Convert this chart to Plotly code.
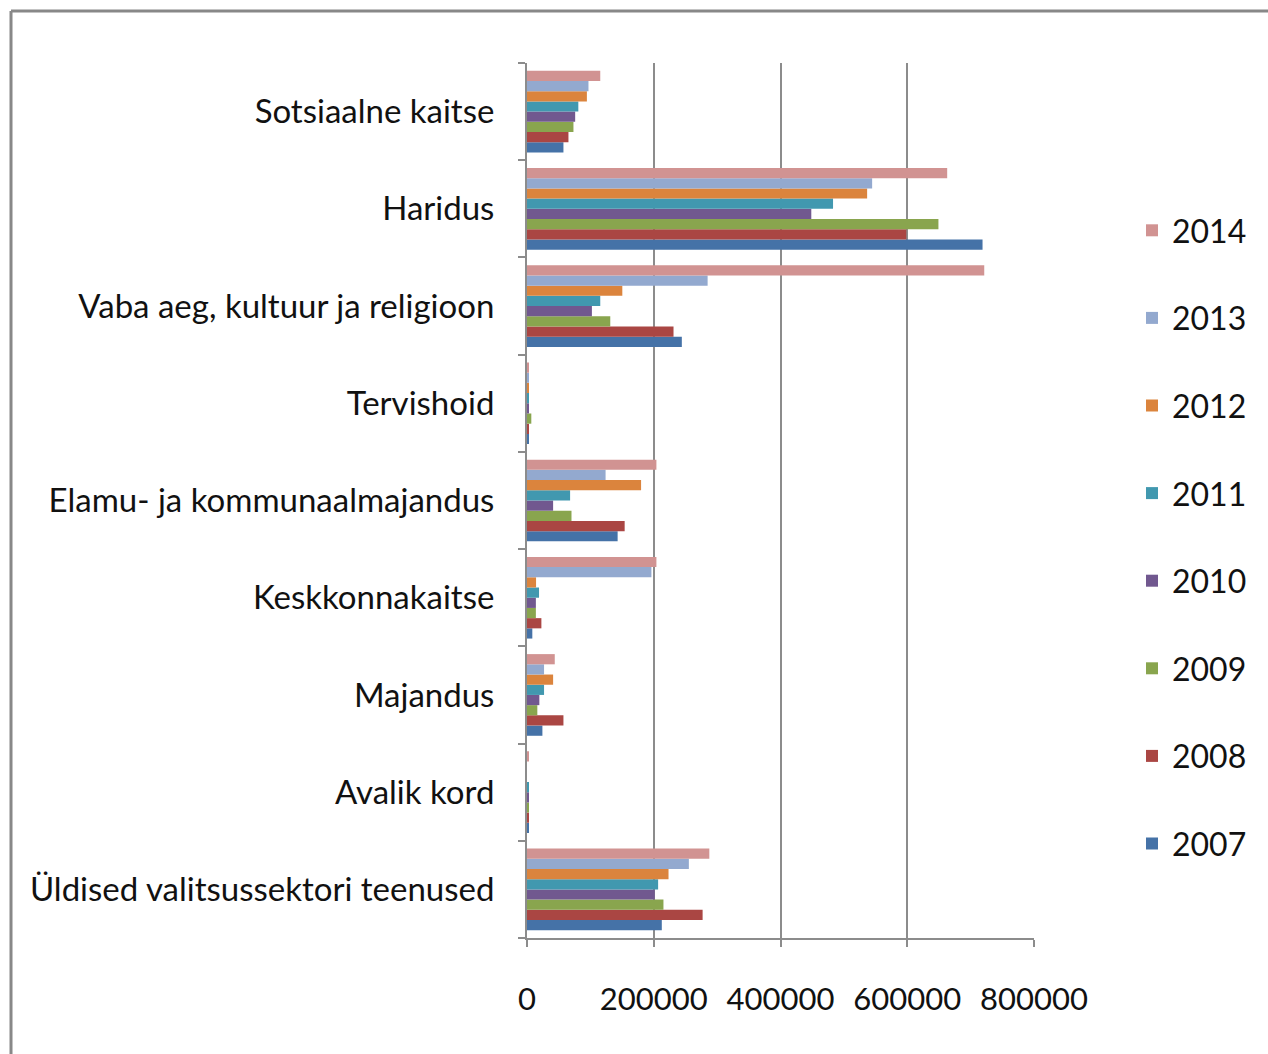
import plotly.graph_objects as go

categories = [
    "Üldised valitsussektori teenused",
    "Avalik kord",
    "Majandus",
    "Keskkonnakaitse",
    "Elamu- ja kommunaalmajandus",
    "Tervishoid",
    "Vaba aeg, kultuur ja religioon",
    "Haridus",
    "Sotsiaalne kaitse",
]

years = ["2007", "2008", "2009", "2010", "2011", "2012", "2013", "2014"]

v2007 = [212700, 2000, 24300, 8400, 143000, 2500, 244300, 718800, 57500]
v2008 = [277100, 2000, 57500, 22700, 154100, 3000, 231200, 598500, 65400]
v2009 = [215300, 2000, 16300, 14000, 70200, 6800, 131400, 649200, 73300]
v2010 = [201600, 2000, 19500, 14000, 41200, 2500, 102400, 448600, 76000]
v2011 = [206900, 2000, 26900, 19000, 68000, 3000, 115600, 482900, 81000]
v2012 = [223300, 0, 41200, 14300, 180000, 3000, 150400, 536700, 94500]
v2013 = [255400, 0, 26900, 196300, 124000, 2000, 285000, 544600, 97000]
v2014 = [287700, 3000, 43800, 204200, 204200, 3000, 721500, 663000, 115600]

series = [v2007, v2008, v2009, v2010, v2011, v2012, v2013, v2014]
colors = ["#4572A7", "#AA4643", "#89A54E", "#71588F", "#4198AF", "#DB843D", "#93A9CF", "#D19392"]

x_ticks = [0, 200000, 400000, 600000, 800000]

FONT = "Lato, sans-serif"

fig = go.Figure()
n = len(years)
for i, (yr, vals, col) in enumerate(zip(years, series, colors)):
    fig.add_trace(go.Bar(
        y=categories, x=vals, name=yr, orientation="h",
        marker=dict(color=col, line=dict(width=0)),
        legendgroup=yr,
        legendrank=1000 - i,
    ))

W, H = 1268, 1054
L, R, T, B = 527, 234, 63, 116
pw, ph = W - L - R, H - T - B

def px_x(p):
    return (p - L) / pw

def px_y(p):
    return (H - B - p) / ph

fig.update_layout(
    width=W, height=H,
    margin=dict(l=L, r=R, t=T, b=B, pad=0, autoexpand=False),
    barmode="group",
    bargap=0.16,
    bargroupgap=0,
    plot_bgcolor="white",
    paper_bgcolor="white",
    font=dict(family=FONT, size=33, color="#111111"),
    legend=dict(
        traceorder="grouped",
        x=px_x(1132), xanchor="left",
        y=px_y(203), yanchor="top",
        font=dict(family=FONT, size=32, color="#111111"),
        tracegroupgap=43,
        itemwidth=30,
        bgcolor="rgba(0,0,0,0)",
    ),
    xaxis=dict(
        range=[0, 800000],
        tickvals=x_ticks,
        tickformat="d",
        tickfont=dict(family=FONT, size=31, color="#111111"),
        showgrid=True, gridcolor="#8c8c8c", gridwidth=2,
        zeroline=False,
        showline=True, linecolor="#8c8c8c", linewidth=2,
        ticks="outside", ticklen=7, tickcolor="#8c8c8c", tickwidth=2,
        ticklabelstandoff=26,
        automargin=False,
        fixedrange=True,
    ),
    yaxis=dict(
        categoryorder="array", categoryarray=categories,
        showgrid=False, zeroline=False,
        showline=True, linecolor="#8c8c8c", linewidth=2,
        ticks="outside", ticklen=7, tickcolor="#8c8c8c", tickwidth=2,
        tickson="boundaries",
        ticklabelstandoff=24,
        automargin=False,
        fixedrange=True,
    ),
    shapes=[
        dict(type="line", xref="paper", yref="paper",
             x0=px_x(11), x1=px_x(1268), y0=px_y(11), y1=px_y(11),
             line=dict(color="#888888", width=3)),
        dict(type="line", xref="paper", yref="paper",
             x0=px_x(11), x1=px_x(11), y0=px_y(11), y1=px_y(1054),
             line=dict(color="#888888", width=3)),
    ],
)

fig.write_html("out.html", config={"displayModeBar": False},
               post_script="document.body.style.margin='0';document.body.style.overflow='hidden';")
